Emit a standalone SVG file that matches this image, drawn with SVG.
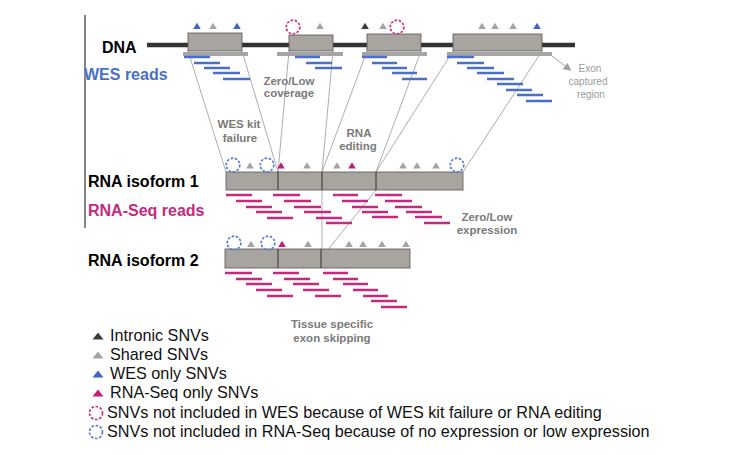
<svg xmlns="http://www.w3.org/2000/svg" xmlns:xlink="http://www.w3.org/1999/xlink" width="739" height="455" viewBox="0 0 739 455">
<style>
.lbl{font-family:"Liberation Sans",Arial,sans-serif;font-weight:bold;fill:#000}
.note{font-family:"Liberation Sans",Arial,sans-serif;font-weight:bold;fill:#7a7a7a;font-size:11.5px;text-anchor:middle}
.small{font-family:"Liberation Sans",Arial,sans-serif;fill:#9a9a9a;font-size:10px;text-anchor:middle}
.leg{font-family:"Liberation Sans",Arial,sans-serif;fill:#111;font-size:16.2px}
.exon{fill:#a8a4a0;stroke:#555;stroke-width:0.8}
.cap{fill:#a5a5a5}
.wes{stroke:#4a6fc9;stroke-width:2.5}
.rna{stroke:#c42a7e;stroke-width:2.5}
.conn{stroke:#8a8a8a;stroke-width:0.7;fill:none}
.tI{fill:#3a3a3a}.tS{fill:#a3a3a3}.tW{fill:#3f63c0}.tR{fill:#c01f78}
.cP{fill:none;stroke:#d0307f;stroke-width:1.7;stroke-dasharray:2.6 1.6}
.cB{fill:none;stroke:#5b7fd0;stroke-width:1.7;stroke-dasharray:2.6 1.6}
</style>
<defs>
<path id="tri" d="M-3.8,3 L0,-3.2 L3.8,3Z"/>
<path id="ltri" d="M-5.5,3.5 L0,-3.5 L5.5,3.5Z"/>
<marker id="ah" markerWidth="8" markerHeight="8" refX="5" refY="4" orient="auto" markerUnits="userSpaceOnUse"><path d="M0,0 L8,4 L0,8Z" fill="#a0a0a0"/></marker>
</defs>
<rect width="739" height="455" fill="#fff"/>
<line x1="85" y1="15" x2="85" y2="228" stroke="#333" stroke-width="1.2"/>

<g id="connectors">
<line class="conn" x1="188" y1="51" x2="226" y2="172"/>
<line class="conn" x1="242" y1="51" x2="278" y2="172"/>
<line class="conn" x1="289" y1="51" x2="278" y2="172"/>
<line class="conn" x1="333" y1="51" x2="322" y2="172"/>
<line class="conn" x1="367" y1="51" x2="322" y2="172"/>
<line class="conn" x1="421" y1="51" x2="376" y2="172"/>
<line class="conn" x1="453" y1="51" x2="376" y2="172"/>
<line class="conn" x1="542" y1="51" x2="463" y2="172"/>
<line class="conn" x1="322" y1="190" x2="322" y2="249"/>
<line class="conn" x1="376" y1="190" x2="322" y2="257"/>
<line x1="552" y1="56" x2="569" y2="69" stroke="#a0a0a0" stroke-width="1" marker-end="url(#ah)"/>
</g>

<g id="dna">
<text class="lbl" x="102" y="53" font-size="16">DNA</text>
<line x1="147" y1="45" x2="575" y2="45" stroke="#333" stroke-width="4.5"/>
<rect class="cap" x="183" y="52" width="65" height="4"/>
<rect class="cap" x="277" y="52" width="66" height="4"/>
<rect class="cap" x="362" y="52" width="65" height="4"/>
<rect class="cap" x="447" y="52" width="105" height="4"/>
<rect class="exon" x="188" y="33" width="54" height="18"/>
<rect class="exon" x="289" y="35" width="44" height="16"/>
<rect class="exon" x="367" y="34" width="54" height="17"/>
<rect class="exon" x="453" y="34" width="89" height="17"/>
<use href="#tri" class="tW" x="197" y="26"/>
<use href="#tri" class="tS" x="213" y="26"/>
<use href="#tri" class="tW" x="237" y="26"/>
<circle class="cP" cx="293" cy="27" r="6.8"/>
<use href="#tri" class="tS" x="320" y="26"/>
<use href="#tri" class="tI" x="365" y="26"/>
<use href="#tri" class="tS" x="383" y="26"/>
<circle class="cP" cx="397" cy="27" r="6.8"/>
<use href="#tri" class="tS" x="482" y="26"/>
<use href="#tri" class="tS" x="495" y="26"/>
<use href="#tri" class="tS" x="513" y="26"/>
<use href="#tri" class="tW" x="537" y="26"/>
</g>

<g id="wes-reads">
<text x="84" y="80" font-size="16" font-weight="bold" fill="#4a6fc9" font-family="Liberation Sans, Arial, sans-serif">WES reads</text>
<line class="wes" x1="184" y1="57" x2="210" y2="57"/>
<line class="wes" x1="194" y1="63" x2="220" y2="63"/>
<line class="wes" x1="204" y1="68" x2="230" y2="68"/>
<line class="wes" x1="213" y1="73" x2="240" y2="73"/>
<line class="wes" x1="223" y1="79" x2="250" y2="79"/>
<line class="wes" x1="295" y1="57" x2="320" y2="57"/>
<line class="wes" x1="306" y1="63" x2="332" y2="63"/>
<line class="wes" x1="315" y1="68" x2="342" y2="68"/>
<line class="wes" x1="362" y1="57" x2="387" y2="57"/>
<line class="wes" x1="372" y1="63" x2="397" y2="63"/>
<line class="wes" x1="382" y1="68" x2="407" y2="68"/>
<line class="wes" x1="392" y1="73" x2="417" y2="73"/>
<line class="wes" x1="402" y1="79" x2="427" y2="79"/>
<line class="wes" x1="447" y1="57" x2="474" y2="57"/>
<line class="wes" x1="457" y1="63" x2="484" y2="63"/>
<line class="wes" x1="467" y1="68" x2="494" y2="68"/>
<line class="wes" x1="477" y1="73" x2="504" y2="73"/>
<line class="wes" x1="487" y1="79" x2="514" y2="79"/>
<line class="wes" x1="497" y1="84" x2="523" y2="84"/>
<line class="wes" x1="506" y1="90" x2="532" y2="90"/>
<line class="wes" x1="517" y1="95" x2="543" y2="95"/>
<line class="wes" x1="526" y1="101" x2="552" y2="101"/>
</g>

<g id="notes">
<text class="note" x="289" y="85">Zero/Low</text>
<text class="note" x="289" y="97">coverage</text>
<text class="small" x="590" y="72">Exon</text>
<text class="small" x="588" y="85">captured</text>
<text class="small" x="591" y="98">region</text>
<text class="note" x="239" y="128">WES kit</text>
<text class="note" x="240" y="142">failure</text>
<text class="note" x="359" y="137">RNA</text>
<text class="note" x="358" y="150">editing</text>
<text class="note" x="487" y="221">Zero/Low</text>
<text class="note" x="487" y="234">expression</text>
<text class="note" x="332" y="328">Tissue specific</text>
<text class="note" x="332" y="342">exon skipping</text>
</g>

<g id="isoform1">
<text class="lbl" x="88" y="187" font-size="16">RNA isoform 1</text>
<rect class="exon" x="226" y="172" width="237" height="18"/>
<line x1="278" y1="172" x2="278" y2="190" stroke="#333" stroke-width="1"/>
<line x1="322" y1="172" x2="322" y2="190" stroke="#333" stroke-width="1"/>
<line x1="376" y1="172" x2="376" y2="190" stroke="#333" stroke-width="1"/>
<circle class="cB" cx="233" cy="165" r="6.8"/>
<use href="#tri" class="tS" x="250" y="165.5"/>
<circle class="cB" cx="267" cy="165" r="6.8"/>
<use href="#tri" class="tR" x="281" y="165.5"/>
<use href="#tri" class="tS" x="307" y="165.5"/>
<use href="#tri" class="tS" x="337" y="165.5"/>
<use href="#tri" class="tR" x="352" y="165.5"/>
<use href="#tri" class="tS" x="403" y="165.5"/>
<use href="#tri" class="tS" x="417" y="165.5"/>
<use href="#tri" class="tS" x="436" y="165.5"/>
<circle class="cB" cx="457" cy="165" r="6.8"/>
</g>

<g id="rnaseq-reads">
<text x="88" y="216" font-size="16" font-weight="bold" fill="#c42a7e" font-family="Liberation Sans, Arial, sans-serif">RNA-Seq reads</text>
<line class="rna" x1="226" y1="195" x2="252" y2="195"/>
<line class="rna" x1="236" y1="201" x2="262" y2="201"/>
<line class="rna" x1="246" y1="207" x2="272" y2="207"/>
<line class="rna" x1="256" y1="212" x2="282" y2="212"/>
<line class="rna" x1="267" y1="218" x2="293" y2="218"/>
<line class="rna" x1="273" y1="195" x2="300" y2="195"/>
<line class="rna" x1="284" y1="201" x2="311" y2="201"/>
<line class="rna" x1="294" y1="207" x2="321" y2="207"/>
<line class="rna" x1="304" y1="212" x2="331" y2="212"/>
<line class="rna" x1="316" y1="218" x2="342" y2="218"/>
<line class="rna" x1="326" y1="223" x2="352" y2="223"/>
<line class="rna" x1="333" y1="195" x2="358" y2="195"/>
<line class="rna" x1="342" y1="201" x2="368" y2="201"/>
<line class="rna" x1="352" y1="207" x2="378" y2="207"/>
<line class="rna" x1="362" y1="212" x2="388" y2="212"/>
<line class="rna" x1="372" y1="217" x2="398" y2="217"/>
<line class="rna" x1="375" y1="195" x2="402" y2="195"/>
<line class="rna" x1="385" y1="201" x2="412" y2="201"/>
<line class="rna" x1="395" y1="207" x2="422" y2="207"/>
<line class="rna" x1="406" y1="212" x2="432" y2="212"/>
<line class="rna" x1="415" y1="217" x2="442" y2="217"/>
<line class="rna" x1="424" y1="223" x2="450" y2="223"/>
</g>

<g id="isoform2">
<text class="lbl" x="88" y="266" font-size="16">RNA isoform 2</text>
<rect class="exon" x="225" y="249" width="185" height="19"/>
<line x1="278" y1="249" x2="278" y2="268" stroke="#333" stroke-width="1"/>
<line x1="321" y1="249" x2="321" y2="268" stroke="#333" stroke-width="1"/>
<circle class="cB" cx="234" cy="243" r="6.8"/>
<use href="#tri" class="tS" x="251" y="244"/>
<circle class="cB" cx="268" cy="243" r="6.8"/>
<use href="#tri" class="tR" x="282" y="244"/>
<use href="#tri" class="tS" x="308" y="244"/>
<use href="#tri" class="tS" x="349" y="244"/>
<use href="#tri" class="tS" x="363" y="244"/>
<use href="#tri" class="tS" x="382" y="244"/>
<use href="#tri" class="tS" x="406" y="244"/>
<line class="rna" x1="225" y1="273" x2="252" y2="273"/>
<line class="rna" x1="236" y1="279" x2="262" y2="279"/>
<line class="rna" x1="246" y1="284" x2="272" y2="284"/>
<line class="rna" x1="256" y1="290" x2="282" y2="290"/>
<line class="rna" x1="267" y1="296" x2="293" y2="296"/>
<line class="rna" x1="273" y1="273" x2="299" y2="273"/>
<line class="rna" x1="284" y1="279" x2="310" y2="279"/>
<line class="rna" x1="293" y1="284" x2="319" y2="284"/>
<line class="rna" x1="303" y1="290" x2="329" y2="290"/>
<line class="rna" x1="315" y1="296" x2="341" y2="296"/>
<line class="rna" x1="323" y1="273" x2="348" y2="273"/>
<line class="rna" x1="333" y1="279" x2="358" y2="279"/>
<line class="rna" x1="343" y1="284" x2="368" y2="284"/>
<line class="rna" x1="353" y1="290" x2="378" y2="290"/>
<line class="rna" x1="363" y1="296" x2="388" y2="296"/>
<line class="rna" x1="371" y1="301" x2="397" y2="301"/>
<line class="rna" x1="381" y1="307" x2="407" y2="307"/>
</g>

<g id="legend">
<use href="#ltri" class="tI" x="98" y="336"/>
<text class="leg" x="110" y="341">Intronic SNVs</text>
<use href="#ltri" class="tS" x="98" y="355"/>
<text class="leg" x="110" y="360">Shared SNVs</text>
<use href="#ltri" class="tW" x="98" y="374"/>
<text class="leg" x="110" y="379">WES only SNVs</text>
<use href="#ltri" class="tR" x="98" y="393"/>
<text class="leg" x="110" y="398">RNA-Seq only SNVs</text>
<circle class="cP" cx="96" cy="413" r="6.5"/>
<text class="leg" x="107" y="418">SNVs not included in WES because of WES kit failure or RNA editing</text>
<circle class="cB" cx="96" cy="432" r="6.5"/>
<text class="leg" x="107" y="437">SNVs not included in RNA-Seq because of no expression or low expression</text>
</g>
</svg>
